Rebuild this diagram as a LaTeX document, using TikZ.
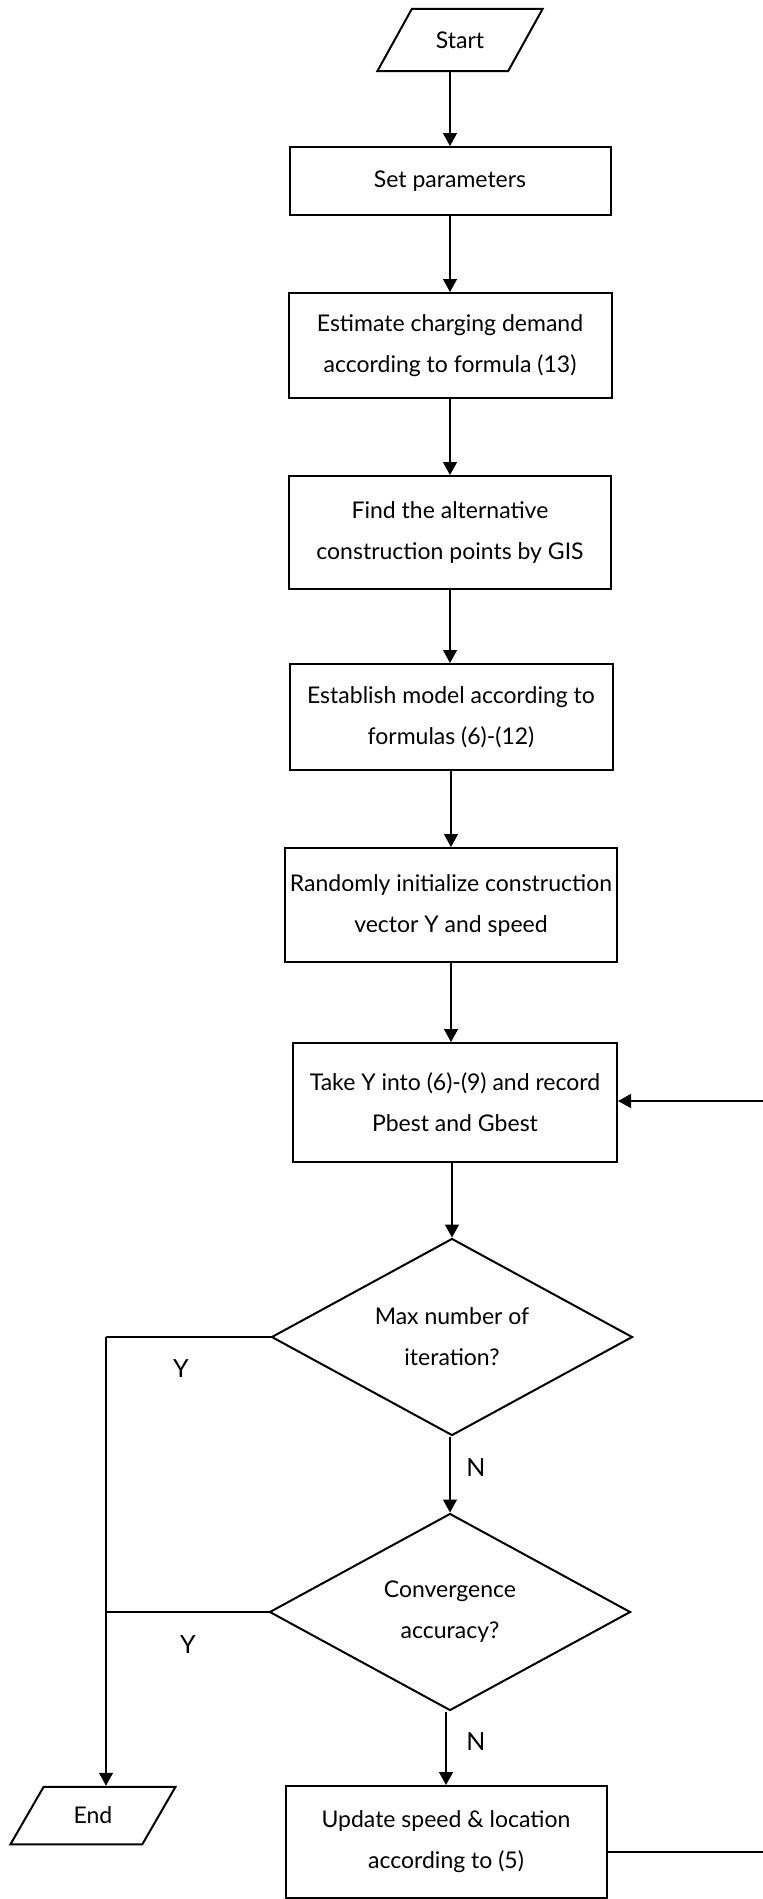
\documentclass[tikz,border=0pt]{standalone}
\usepackage{fontspec}
\setmainfont{Lato}
\usetikzlibrary{shapes.geometric,arrows.meta}
\usetikzlibrary{positioning}

\begin{document}
\begin{tikzpicture}[x=1pt,y=1pt,yscale=-1,xscale=1]
 \useasboundingbox (0,0) rectangle (763,1899);
 \tikzstyle{arrow} = [line width=1.3pt,-{Triangle[length=13pt,width=14pt]}]
 \tikzstyle{line} = [line width=1.3pt]
 \tikzstyle{procbox} = [draw,line width=2pt,rectangle,align=center,inner sep=0pt,font=\fontsize{23}{41}\selectfont]
 \tikzstyle{iobox} = [draw,line width=2pt,trapezium,font=\fontsize{23}{41}\selectfont]
 \tikzstyle{decision} = [draw,line width=2pt,diamond,aspect=1.83,align=center,inner sep=0pt,font=\fontsize{23}{41}\selectfont]
 \tikzstyle{lbl} = [inner sep=0pt,font=\fontsize{25}{30}\selectfont]

  %Draw the boxes
 \node[iobox,trapezium left angle=61,trapezium right angle=119,inner xsep=24pt,inner ysep=22.7pt] (start) at (460,40) {Start};
 \node[procbox,minimum width=321,minimum height=68] (setpar) at (450,181) {Set parameters};
 \node[procbox,minimum width=323,minimum height=105] (demand) at (450,345.5) {Estimate charging demand\\according to formula (13)};
 \node[procbox,minimum width=322,minimum height=113] (points) at (450,532.5) {Find the alternative\\construction points by GIS};
 \node[procbox,minimum width=323,minimum height=106] (model) at (451,717) {Establish model according to\\formulas (6)-(12)};
 \node[procbox,minimum width=332,minimum height=114] (init) at (451,905) {Randomly initialize construction\\vector Y and speed};
 \node[procbox,minimum width=324,minimum height=119] (record) at (455,1102.5) {Take Y into (6)-(9) and record\\Pbest and Gbest};
 \node[decision,minimum width=361,minimum height=197] (maxit) at (452,1337) {Max number of\\iteration?};
 \node[decision,minimum width=361,minimum height=197] (conv) at (450,1612) {Convergence\\accuracy?};
 \node[procbox,minimum width=321,minimum height=112] (update) at (446,1842) {Update speed \& location\\according to (5)};
 \node[iobox,trapezium left angle=60,trapezium right angle=120,inner xsep=30pt,inner ysep=20.2pt] (finish) at (93,1815.5) {End};

  %Corner points
 \coordinate (yturn) at (106,1337);
 \coordinate (loopout) at (766,1852);
 \coordinate (loopin) at (766,1101);

  %Draw connectors
 \draw[arrow] (start.south -| setpar.north) -- (setpar.north);
 \draw[arrow] (setpar.south) -- (demand.north);
 \draw[arrow] (demand.south) -- (points.north);
 \draw[arrow] (points.south) -- (points.south |- model.north);
 \draw[arrow] (model.south) -- (model.south |- init.north);
 \draw[arrow] (init.south) -- (init.south |- record.north);
 \draw[arrow] (record.south -| maxit.north) -- (maxit.north);
 \draw[arrow] (maxit.south -| conv.north) -- (conv.north);
 \draw[arrow] (conv.south -| update.north) -- (update.north);
 \draw[line] (maxit.west) -- (yturn);
 \draw[line] (conv.west) -- (conv.west -| yturn);
 \draw[arrow] (yturn) -- (yturn |- finish.north);
 \draw[line] (update.east |- loopout) -- (loopout) -- (loopin);
 \draw[arrow] (loopin) -- (record.east |- loopin);

  %Labelling
 \node[lbl] (yes1) at (181,1369) {Y};
 \node[lbl] (yes2) at (188,1645) {Y};
 \node[lbl] (no1) at (476,1468) {N};
 \node[lbl] (no2) at (476,1742) {N};

\end{tikzpicture}
\end{document}
